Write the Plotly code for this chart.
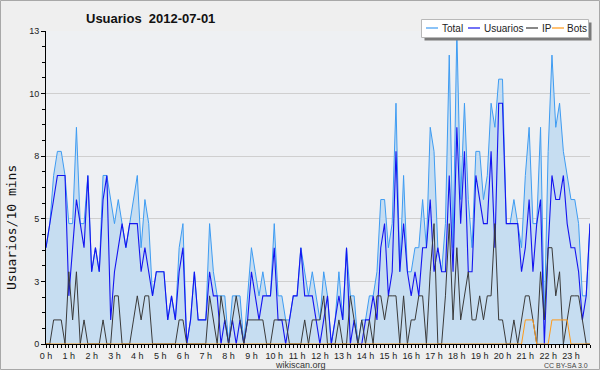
import plotly.graph_objects as go

# ---- data: 144 ten-minute slots, 2012-07-01 ----
slots = list(range(144))

total = [4, 5, 7, 8, 8, 7, 5, 5, 9, 5,
         5, 7, 3, 4, 3, 7, 7, 6, 5, 6,
         5, 4, 5, 6, 7, 4, 6, 5, 2, 3,
         3, 3, 1, 2, 1, 4, 5, 0, 1, 3,
         1, 1, 1, 5, 3, 2, 2, 2, 0, 2,
         2, 2, 0, 2, 4, 3, 2, 3, 2, 2,
         5, 2, 2, 1, 1, 2, 2, 4, 3, 2,
         3, 2, 1, 3, 2, 0, 1, 3, 1, 4,
         2, 2, 0, 1, 1, 2, 2, 3, 6, 6,
         4, 5, 10, 3, 7, 3, 3, 4, 4, 6,
         4, 9, 8, 4, 3, 5, 12, 4, 13, 6,
         10, 6, 4, 8, 8, 6, 7, 10, 9, 11,
         11, 5, 5, 6, 5, 4, 7, 9, 5, 5,
         9, 1, 8, 12, 9, 10, 8, 7, 6, 6,
         5, 2, 2, 5]

usuarios = [4, 5, 6, 7, 7, 7, 2, 4, 6, 5,
            4, 7, 3, 4, 3, 6, 7, 1, 3, 4,
            5, 4, 5, 5, 5, 3, 4, 3, 2, 3,
            3, 3, 1, 2, 1, 3, 4, 0, 1, 3,
            1, 1, 1, 3, 2, 2, 0, 1, 0, 1,
            0, 1, 0, 1, 3, 2, 1, 2, 2, 2,
            4, 1, 1, 0, 1, 2, 2, 4, 2, 2,
            2, 1, 0, 1, 2, 0, 1, 2, 1, 4,
            0, 1, 0, 0, 1, 1, 2, 1, 4, 5,
            2, 3, 8, 3, 5, 3, 2, 3, 2, 4,
            4, 6, 3, 4, 3, 3, 7, 3, 9, 5,
            8, 3, 3, 7, 6, 5, 5, 8, 4, 10,
            10, 5, 5, 5, 5, 3, 4, 6, 3, 5,
            6, 0, 4, 7, 6, 6, 7, 5, 4, 4,
            3, 1, 2, 5]

ip = [0, 0, 1, 1, 1, 0, 3, 1, 3, 0,
      1, 0, 0, 0, 0, 1, 0, 0, 2, 2,
      0, 0, 0, 1, 2, 1, 2, 2, 0, 0,
      0, 0, 0, 0, 0, 1, 1, 0, 0, 0,
      0, 0, 0, 2, 1, 0, 2, 1, 0, 1,
      2, 1, 0, 1, 1, 1, 1, 1, 0, 0,
      1, 1, 1, 1, 0, 0, 0, 0, 1, 0,
      1, 1, 1, 2, 0, 0, 0, 1, 0, 0,
      2, 1, 0, 1, 0, 1, 0, 2, 2, 1,
      2, 2, 2, 0, 2, 0, 1, 1, 2, 2,
      0, 3, 5, 0, 0, 2, 5, 1, 4, 1,
      2, 3, 1, 1, 2, 1, 2, 2, 5, 1,
      1, 0, 0, 1, 0, 1, 2, 2, 1, 0,
      3, 1, 4, 4, 2, 3, 0, 1, 2, 2,
      2, 1, 0, 0]

bots = [0, 0, 0, 0, 0, 0, 0, 0, 0, 0,
        0, 0, 0, 0, 0, 0, 0, 0, 0, 0,
        0, 0, 0, 0, 0, 0, 0, 0, 0, 0,
        0, 0, 0, 0, 0, 0, 0, 0, 0, 0,
        0, 0, 0, 0, 0, 0, 0, 0, 0, 0,
        0, 0, 0, 0, 0, 0, 0, 0, 0, 0,
        0, 0, 0, 0, 0, 0, 0, 0, 0, 0,
        0, 0, 0, 0, 0, 0, 0, 0, 0, 0,
        0, 0, 0, 0, 0, 0, 0, 0, 0, 0,
        0, 0, 0, 0, 0, 0, 0, 0, 0, 0,
        0, 0, 0, 0, 0, 0, 0, 0, 0, 0,
        0, 0, 0, 0, 0, 0, 0, 0, 0, 0,
        0, 0, 0, 0, 0, 0, 1, 1, 1, 0,
        0, 0, 0, 1, 1, 1, 1, 1, 0, 0,
        0, 0, 0, 0]

hour_ticks = [0, 6, 12, 18, 24, 30, 36, 42, 48, 54, 60, 66,
              72, 78, 84, 90, 96, 102, 108, 114, 120, 126, 132, 138]
hour_labels = ["0 h", "1 h", "2 h", "3 h", "4 h", "5 h", "6 h", "7 h",
               "8 h", "9 h", "10 h", "11 h", "12 h", "13 h", "14 h", "15 h",
               "16 h", "17 h", "18 h", "19 h", "20 h", "21 h", "22 h", "23 h"]
y_ticks = [0, 2.6, 5.2, 7.8, 10.4, 13]
y_labels = ["0", "3", "5", "8", "10", "13"]

series_names = ["Total", "Usuarios", "IP", "Bots"]
series_colors = ["#3e9cf2", "#1414f0", "#3a3a3a", "#ff9a1a"]
fill_color = "#c6ddf1"

# ---- geometry (pixels) ----
W, H = 600, 370
L, R, T, B = 46, 10, 31, 26
PW, PH = W - L - R, H - T - B


def px(x):
    return (x - L) / PW


def py(y):
    return (H - B - y) / PH


fig = go.Figure()
fig.add_trace(go.Scatter(x=slots, y=total, mode="lines", name="Total",
                         line=dict(color=series_colors[0], width=1),
                         fill="tozeroy", fillcolor=fill_color))
fig.add_trace(go.Scatter(x=slots, y=usuarios, mode="lines", name="Usuarios",
                         line=dict(color=series_colors[1], width=1.1)))
fig.add_trace(go.Scatter(x=slots, y=ip, mode="lines", name="IP",
                         line=dict(color=series_colors[2], width=1)))
fig.add_trace(go.Scatter(x=slots, y=bots, mode="lines", name="Bots",
                         line=dict(color=series_colors[3], width=1)))

axis_font = dict(family="Liberation Sans, Arial, sans-serif", size=9, color="#222")

fig.update_layout(
    width=W, height=H,
    margin=dict(l=L, r=R, t=T, b=B, pad=0),
    paper_bgcolor="#efefef",
    plot_bgcolor="#eef0f3",
    showlegend=False,
    xaxis=dict(range=[0, 143], tickmode="array", tickvals=hour_ticks,
               ticktext=hour_labels, ticks="outside", ticklen=3,
               tickcolor="#000", tickwidth=1, showline=True, linecolor="#000",
               linewidth=1, showgrid=False, zeroline=False, tickfont=axis_font,
               minor=dict(tickmode="array", tickvals=slots, ticks="outside",
                          ticklen=3, tickcolor="#000", showgrid=False)),
    yaxis=dict(range=[0, 13], tickmode="array", tickvals=y_ticks,
               ticktext=y_labels, ticks="outside", ticklen=4, tickcolor="#000",
               showline=True, linecolor="#000", linewidth=1, showgrid=True,
               gridcolor="#cfcfcf", gridwidth=1, zeroline=False,
               tickfont=axis_font,
               minor=dict(tickmode="linear", tick0=0, dtick=0.65,
                          ticks="outside", ticklen=3, tickcolor="#000",
                          showgrid=False)),
)

shapes = []
annotations = []

# outer border
shapes.append(dict(type="rect", xref="paper", yref="paper",
                   x0=px(0.5), x1=px(W - 0.5), y0=py(H - 0.5), y1=py(0.5),
                   line=dict(color="#a8a8a8", width=1), fillcolor="rgba(0,0,0,0)",
                   layer="above"))

# legend box with shadow
lx0, lx1, ly0, ly1 = 421.5, 588.5, 19.5, 37.5
shapes.append(dict(type="rect", xref="paper", yref="paper",
                   x0=px(lx0 + 3), x1=px(lx1 + 3), y0=py(ly1 + 3), y1=py(ly0 + 3),
                   line=dict(width=0), fillcolor="#7a7a7a", layer="above"))
shapes.append(dict(type="rect", xref="paper", yref="paper",
                   x0=px(lx0), x1=px(lx1), y0=py(ly1), y1=py(ly0),
                   line=dict(color="#b8b8b8", width=1), fillcolor="#ffffff",
                   layer="above"))
leg_line_x = [426, 468, 526, 552]
leg_text_x = [441, 483, 541, 566]
for name, col, lx, tx in zip(series_names, series_colors, leg_line_x, leg_text_x):
    shapes.append(dict(type="line", xref="paper", yref="paper",
                       x0=px(lx), x1=px(lx + 12), y0=py(28), y1=py(28),
                       line=dict(color=col, width=1.2), layer="above"))
    annotations.append(dict(text=name, xref="paper", yref="paper",
                            x=px(tx), y=py(28.5), xanchor="left", yanchor="middle",
                            showarrow=False, borderpad=0,
                            font=dict(family="Liberation Sans, Arial, sans-serif",
                                      size=10, color="#222")))

# title
annotations.append(dict(text="<b>Usuarios \u00a02012-07-01</b>", xref="paper", yref="paper",
                        x=px(85), y=py(19), xanchor="left", yanchor="middle",
                        showarrow=False, borderpad=0,
                        font=dict(family="Liberation Sans, Arial, sans-serif",
                                  size=13, color="#111")))
# y axis title
annotations.append(dict(text="Usuarios/10 mins", xref="paper", yref="paper",
                        x=px(11), y=py(228), xanchor="center", yanchor="middle",
                        textangle=-90, showarrow=False, borderpad=0,
                        font=dict(family="DejaVu Sans Mono, monospace",
                                  size=13, color="#111")))
# footer
annotations.append(dict(text="wikiscan.org", xref="paper", yref="paper",
                        x=px(300), y=py(365), xanchor="center", yanchor="middle",
                        showarrow=False, borderpad=0,
                        font=dict(family="Liberation Sans, Arial, sans-serif",
                                  size=9, color="#333")))
annotations.append(dict(text="CC BY-SA 3.0", xref="paper", yref="paper",
                        x=px(589), y=py(365.5), xanchor="right", yanchor="middle",
                        showarrow=False, borderpad=0,
                        font=dict(family="Liberation Sans, Arial, sans-serif",
                                  size=7, color="#444")))

fig.update_layout(shapes=shapes, annotations=annotations)
fig.write_html("out.html", config={"displayModeBar": False},
               post_script="document.body.style.margin='0';")
